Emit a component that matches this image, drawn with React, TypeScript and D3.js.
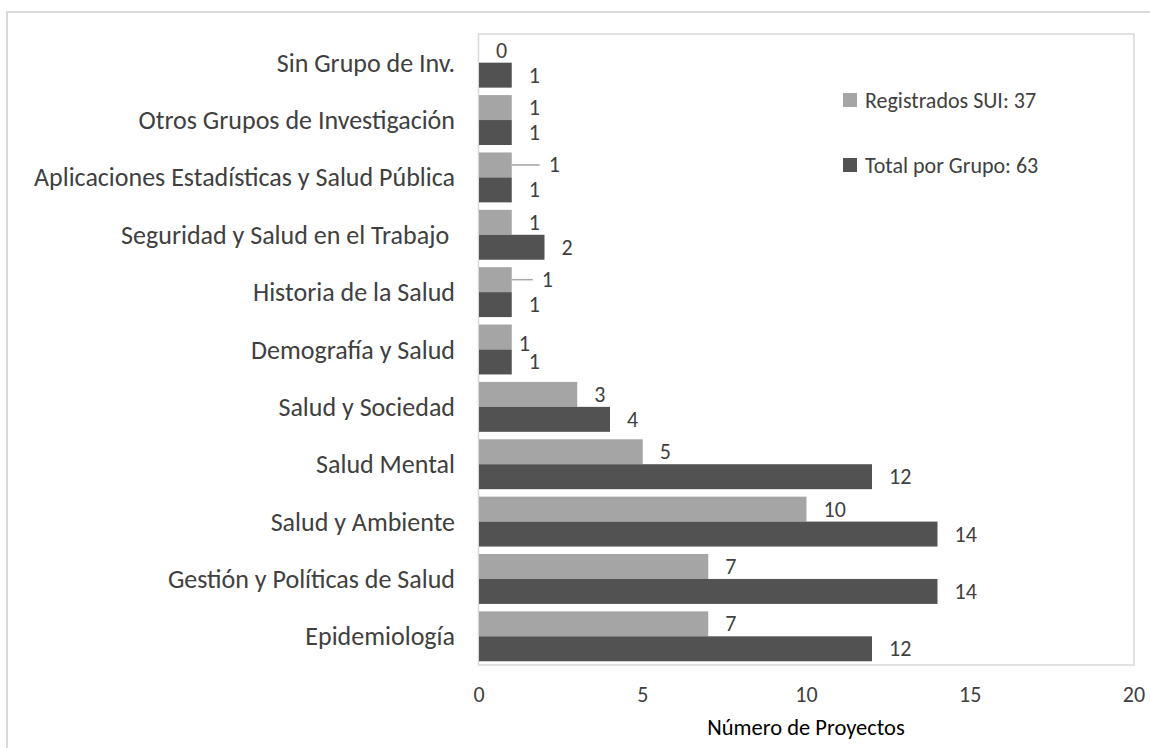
import React from "react";
import * as d3 from "d3";

const categories = [
  "Sin Grupo de Inv.",
  "Otros Grupos de Investigación",
  "Aplicaciones Estadísticas y Salud Pública",
  "Seguridad y Salud en el Trabajo ",
  "Historia de la Salud",
  "Demografía y Salud",
  "Salud y Sociedad",
  "Salud Mental",
  "Salud y Ambiente",
  "Gestión y Políticas de Salud",
  "Epidemiología",
];
const registrados = [0, 1, 1, 1, 1, 1, 3, 5, 10, 7, 7];
const totales = [1, 1, 1, 2, 1, 1, 4, 12, 14, 14, 12];
const seriesNames = ["Registrados SUI: 37", "Total por Grupo: 63"];
const xTicks = [0, 5, 10, 15, 20];
const xTitle = "Número de Proyectos";

// manual label nudges (px) for the light series, as in the original layout
const lightLabelNudge: Record<number, { dx: number; dy: number; leader?: number }> = {
  2: { dx: 20, dy: 0, leader: 28 },
  4: { dx: 13, dy: 0, leader: 21 },
  5: { dx: -10, dy: 6 },
};

const W = 1150;
const H = 748;
const LIGHT = "#a5a5a5";
const DARK = "#525252";
const TEXT = "#404040";
const FONT = "Carlito, 'Open Sans', 'Noto Sans', sans-serif";

export default function App() {
  const x = d3.scaleLinear().domain([0, 20]).range([479, 1134]);
  const y = d3.scaleBand<string>().domain(categories).range([34, 665]).paddingInner(0).paddingOuter(0);
  const step = y.step();
  const groupH = step * 0.87;
  const barH = groupH / 2;
  const gap = 17;

  return (
    <svg
      width={W}
      height={H}
      style={{ position: "absolute", left: 0, top: 0, display: "block", background: "#fff" }}
      fontFamily={FONT}
    >
      <rect x={0} y={0} width={W} height={H} fill="#fff" />
      {/* outer frame */}
      <rect x={7} y={12} width={W + 20} height={H + 20} fill="none" stroke="#d9d9d9" strokeWidth={2} />
      {/* plot border */}
      <rect x={478.5} y={34} width={1134 - 478.5} height={665 - 34} fill="none" stroke="#d9d9d9" strokeWidth={1.5} />

      {categories.map((c, i) => {
        const y0 = (y(c) as number) + (step - groupH) / 2;
        const yl = y0;
        const yd = y0 + barH;
        const nudge = lightLabelNudge[i];
        const lx = x(registrados[i]) + gap + (nudge ? nudge.dx : 0);
        const ly = yl + barH / 2 + (nudge ? nudge.dy : 0);
        return (
          <g key={c}>
            <text
              x={455}
              y={(y(c) as number) + step / 2}
              textAnchor="end"
              dominantBaseline="central"
              fontSize={26}
              fontWeight={300}
              fill={TEXT}
              style={{ whiteSpace: "pre" }}
            >
              {c}
            </text>
            {registrados[i] > 0 && (
              <rect x={x(0)} y={yl} width={x(registrados[i]) - x(0)} height={barH} fill={LIGHT} />
            )}
            <rect x={x(0)} y={yd} width={x(totales[i]) - x(0)} height={barH} fill={DARK} />
            {nudge && nudge.leader && (
              <line
                x1={x(registrados[i])}
                x2={x(registrados[i]) + nudge.leader}
                y1={yl + barH / 2}
                y2={yl + barH / 2}
                stroke={LIGHT}
                strokeWidth={1.5}
              />
            )}
            <text x={lx} y={ly} dominantBaseline="central" fontSize={22} fontWeight={300} fill={TEXT}>
              {registrados[i]}
            </text>
            <text
              x={x(totales[i]) + gap}
              y={yd + barH / 2}
              dominantBaseline="central"
              fontSize={22}
              fontWeight={300}
              fill={TEXT}
            >
              {totales[i]}
            </text>
          </g>
        );
      })}

      {xTicks.map((t) => (
        <text key={t} x={x(t)} y={694} textAnchor="middle" dominantBaseline="central" fontSize={22} fontWeight={300} fill={TEXT}>
          {t}
        </text>
      ))}
      <text x={806} y={727} textAnchor="middle" dominantBaseline="central" fontSize={22.5} fill="#000">
        {xTitle}
      </text>

      {/* legend */}
      {seriesNames.map((s, i) => (
        <g key={s}>
          <rect x={843} y={93 + i * 65} width={14} height={14} fill={i === 0 ? LIGHT : DARK} />
          <text x={865} y={100 + i * 65} dominantBaseline="central" fontSize={22} fontWeight={300} fill={TEXT}>
            {s}
          </text>
        </g>
      ))}
    </svg>
  );
}
